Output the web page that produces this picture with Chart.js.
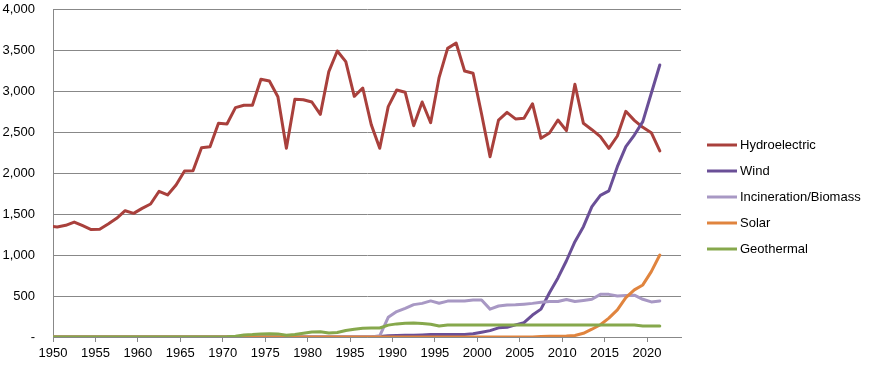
<!DOCTYPE html>
<html>
<head>
<meta charset="utf-8">
<script src="https://cdn.jsdelivr.net/npm/chart.js@4"></script>
<style>
  html, body { margin: 0; padding: 0; background: #fff; }
  #wrap { width: 870px; height: 365px; position: relative; }
</style>
</head>
<body>
<div id="wrap"><canvas id="c" width="870" height="365"></canvas></div>
<script>
// Years (values plotted at the middle of each year; 1949 only enters from the left edge)
const years = [];
for (let y = 1949; y <= 2021; y++) years.push(y);

const hydroelectric = [
  1355, 1341, 1362, 1402, 1357, 1310, 1315, 1378, 1447, 1540, // 1949-1958
  1508, 1569, 1622, 1777, 1732, 1854, 2025, 2028, 2309, 2321, // 1959-1968
  2606, 2598, 2797, 2826, 2826, 3143, 3122, 2930, 2301, 2900, // 1969-1978
  2894, 2866, 2715, 3236, 3488, 3358, 2935, 3037, 2590, 2301, // 1979-1988
  2809, 3012, 2984, 2577, 2866, 2613, 3167, 3520, 3585, 3244, // 1989-1998
  3216, 2720, 2199, 2646, 2740, 2660, 2667, 2845, 2423, 2488, // 1999-2008
  2646, 2516, 3083, 2606, 2528, 2443, 2301, 2451, 2752, 2642, // 2009-2018
  2557, 2492, 2270                                              // 2019-2021
];
const wind = [
  0, 0, 0, 0, 0, 0, 0, 0, 0, 0,
  0, 0, 0, 0, 0, 0, 0, 0, 0, 0,
  0, 0, 0, 0, 0, 0, 0, 0, 0, 0,
  0, 0, 0, 0, 0, 0, 0, 0, 0, 5,
  15, 18, 20, 22, 25, 30, 32, 32, 30, 30,
  40, 58, 78, 112, 118, 148, 175, 268, 340, 540,
  720, 930, 1162, 1345, 1589, 1728, 1782, 2077, 2321, 2463,
  2626, 2972, 3317
];
const incinerationBiomass = [
  0, 0, 0, 0, 0, 0, 0, 0, 0, 0,
  0, 0, 0, 0, 0, 0, 0, 0, 0, 0,
  0, 0, 0, 0, 0, 0, 0, 0, 0, 0,
  0, 0, 0, 0, 0, 0, 0, 0, 0, 15,
  240, 310, 350, 395, 410, 440, 412, 438, 440, 440,
  450, 452, 340, 378, 390, 392, 400, 410, 425, 432,
  432, 458, 432, 445, 460, 520, 520, 500, 505, 510,
  460, 428, 440
];
const solar = [
  0, 0, 0, 0, 0, 0, 0, 0, 0, 0,
  0, 0, 0, 0, 0, 0, 0, 0, 0, 0,
  0, 0, 0, 0, 0, 0, 0, 0, 0, 0,
  0, 0, 0, 0, 0, 0, 0, 0, 0, 0,
  0, 0, 0, 0, 0, 0, 0, 0, 0, 0,
  0, 0, 0, 0, 0, 0, 0, 0, 5, 8,
  10, 12, 18, 45, 95, 150, 230, 330, 480, 575,
  635, 797, 1000
];
const geothermal = [
  0, 0, 0, 0, 0, 0, 0, 0, 0, 0,
  0, 0, 0, 0, 0, 0, 0, 0, 0, 0,
  0, 2, 10, 25, 30, 38, 40, 38, 22, 30,
  45, 60, 65, 48, 55, 80, 95, 108, 110, 110,
  145, 160, 168, 170, 165, 155, 135, 145, 147, 147,
  147, 147, 147, 147, 147, 147, 147, 147, 147, 147,
  147, 147, 147, 147, 147, 147, 147, 147, 147, 145,
  135, 135, 135
];
const seriesNames = ['Hydroelectric', 'Wind', 'Incineration/Biomass', 'Solar', 'Geothermal'];
const seriesColors = ['#A9403C', '#6A4F97', '#A898C4', '#E0843E', '#86A84C'];
const xTickStep = 5;
const yTickStep = 500;

const seriesValues = [hydroelectric, wind, incinerationBiomass, solar, geothermal];
const FONT = "'Liberation Sans', Arial, sans-serif";

const datasets = seriesValues.map((vals, si) => ({
  label: seriesNames[si],
  data: years.map((yr, i) => ({ x: yr + 0.5, y: vals[i] })),
  borderColor: seriesColors[si],
  backgroundColor: seriesColors[si],
  borderWidth: 3,
  pointRadius: 0,
  tension: 0,
  borderJoinStyle: 'round',
  borderCapStyle: 'round',
  order: seriesNames.length - si
}));

const legendPlugin = {
  id: 'sideLegend',
  afterDraw(chart) {
    const ctx = chart.ctx;
    ctx.save();
    ctx.font = '13px ' + FONT;
    ctx.textBaseline = 'middle';
    ctx.textAlign = 'left';
    seriesNames.forEach((name, i) => {
      const y = 145 + i * 26;
      ctx.strokeStyle = seriesColors[i];
      ctx.lineWidth = 3;
      ctx.beginPath();
      ctx.moveTo(707, y);
      ctx.lineTo(737, y);
      ctx.stroke();
      ctx.fillStyle = '#000';
      ctx.fillText(name, 740, y);
    });
    ctx.restore();
  }
};

new Chart(document.getElementById('c'), {
  type: 'line',
  data: { datasets },
  plugins: [legendPlugin],
  options: {
    responsive: false,
    animation: false,
    devicePixelRatio: 1,
    layout: { padding: { top: 9, right: 189, bottom: 0, left: 0 } },
    plugins: { legend: { display: false }, tooltip: { enabled: false } },
    scales: {
      x: {
        type: 'linear',
        min: 1950,
        max: 2024,
        afterFit(scale) { scale.height = 28; },
        grid: { drawOnChartArea: false, drawTicks: true, tickLength: 5, color: '#888888' },
        border: { color: '#888888', width: 1 },
        ticks: {
          stepSize: xTickStep,
          includeBounds: false,
          autoSkip: false,
          maxRotation: 0,
          padding: 4,
          color: '#000',
          font: { family: FONT, size: 13 },
          callback: (v) => String(v)
        }
      },
      y: {
        min: 0,
        max: 4000,
        afterFit(scale) { scale.width = 53; scale.paddingTop = 0; scale.paddingBottom = 0; },
        grid: { drawTicks: false, color: '#888888', lineWidth: 1 },
        border: { color: '#888888', width: 1 },
        ticks: {
          stepSize: yTickStep,
          padding: 18,
          color: '#000',
          font: { family: FONT, size: 13 },
          callback: (v) => v === 0 ? '-' : v.toLocaleString('en-US')
        }
      }
    }
  }
});
</script>
</body>
</html>
